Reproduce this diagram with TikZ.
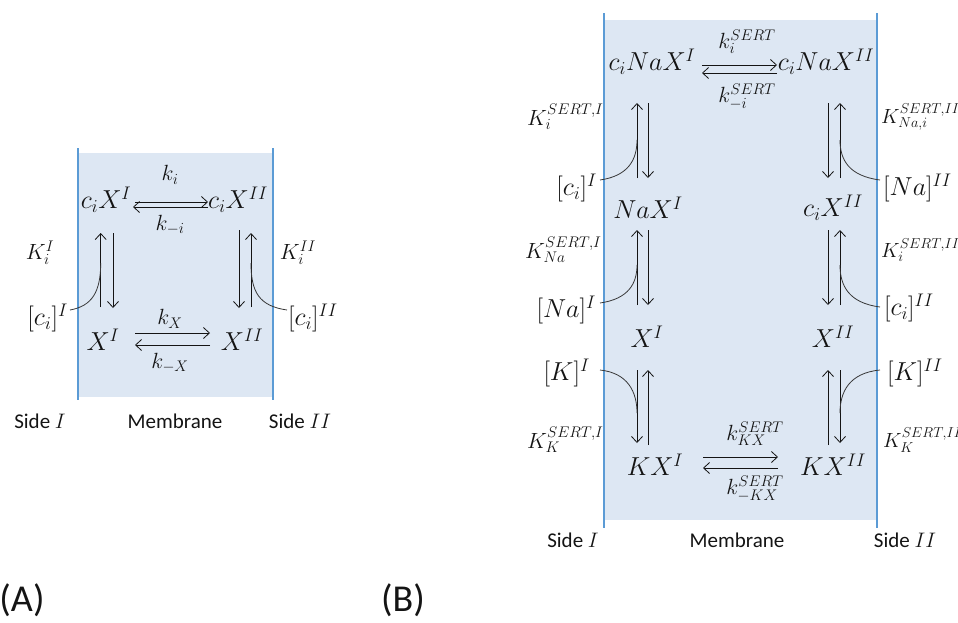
\RequirePackage{fix-cm}
\documentclass[tikz,border=0pt]{standalone}
\usepackage{fontspec}
\newfontfamily\calib{Carlito}
\usetikzlibrary{arrows.meta}
\definecolor{memfill}{RGB}{221,231,243}
\definecolor{memline}{RGB}{91,155,213}
\definecolor{ink}{RGB}{20,20,20}
\begin{document}
\begin{tikzpicture}[x=1pt,y=-1pt,
  spc/.style={font=\fontsize{26}{30}\selectfont,text=ink,inner sep=0pt},
  lbl/.style={font=\fontsize{22}{26}\selectfont,text=ink,inner sep=0pt},
  rlbl/.style={font=\fontsize{20.5}{24}\selectfont,text=ink,inner sep=0pt,anchor=west},
  sidelbl/.style={font=\calib\fontsize{21}{25}\selectfont,text=ink,inner sep=0pt},
  panel/.style={font=\calib\fontsize{38}{44}\selectfont,text=ink,inner sep=0pt},
  arr/.style={draw=ink,line width=0.8pt,-{Straight Barb[length=6pt,width=11pt]}},
  crv/.style={draw=ink!85,line width=0.8pt},
  memedge/.style={draw=memline,line width=2pt}]
\useasboundingbox (0,0) rectangle (958,622);

% ================= Panel A =================
\fill[memfill] (78,153) rectangle (273,397);
\draw[memedge] (78,148) coordinate (aL1) -- (78,400) coordinate (aL2);
\draw[memedge] (273,148) coordinate (aR1) -- (273,400) coordinate (aR2);

\node[spc] (cXI)  at (106,200) {$c_iX^I$};
\node[spc] (cXII) at (238,200) {$c_iX^{II}$};
\node[spc] (XI)   at (103,340) {$X^I$};
\node[spc] (XII)  at (242,340) {$X^{II}$};
\node[lbl] (ki)   at (170,175) {$k_i$};
\node[lbl] (kmi)  at (170,225) {$k_{-i}$};
\node[lbl] (kx)   at (170,319) {$k_X$};
\node[lbl] (kmx)  at (170,363) {$k_{-X}$};
\node[lbl] (KiI)  at (40,253) {$K_i^I$};
\node[lbl] (KiII) at (298,253) {$K_i^{II}$};
\node[spc,anchor=east] (ciI)  at (68,318) {$[c_i]^I$};
\node[spc,anchor=west] (ciII) at (288,318) {$[c_i]^{II}$};
\node[sidelbl] (sIA)  at (40,421) {Side $I$};
\node[sidelbl] (memA) at (175,421) {Membrane};
\node[sidelbl] (sIIA) at (300,421) {Side $II$};
\node[panel] (labA) at (22,600) {(A)};

% horizontal arrows A
\draw[arr] (135,202) coordinate (a1) -- (208,202) coordinate (a2);
\draw[arr] (208,207) coordinate (a3) -- (133,207) coordinate (a4);
\draw[arr] (135,333) coordinate (a5) -- (210,333) coordinate (a6);
\draw[arr] (210,345) coordinate (a7) -- (135,345) coordinate (a8);
% vertical arrows A
\draw[arr] (100.7,307) coordinate (v1) -- (100.7,233) coordinate (v2);
\draw[arr] (113,233) coordinate (v3) -- (113,308) coordinate (v4);
\draw[arr] (239,230) coordinate (v5) -- (239,308) coordinate (v6);
\draw[arr] (251,307) coordinate (v7) -- (251,233) coordinate (v8);
% curves A
\coordinate (jA1) at (100.7,263);
\coordinate (jA2) at (251,263);
\draw[crv] (70,310) .. controls (92,306) and (100.7,292) .. (jA1);
\draw[crv] (287,310) .. controls (259,306) and (251,292) .. (jA2);

% ================= Panel B =================
\fill[memfill] (604,20) rectangle (877,520);
\draw[memedge] (604,13) coordinate (bL1) -- (604,528) coordinate (bL2);
\draw[memedge] (877,13) coordinate (bR1) -- (877,528) coordinate (bR2);

\node[spc] (cNaXI)  at (652,62) {$c_iNaX^I$};
\node[spc] (cNaXII) at (826,62) {$c_iNaX^{II}$};
\node[lbl] (kiS)    at (747,42) {$k_i^{SERT}$};
\node[lbl] (kmiS)   at (747,97) {$k_{-i}^{SERT}$};
\node[lbl,anchor=west] (KiSI) at (527,117) {$K_i^{SERT,I}$};
\node[rlbl] (KNaiSII) at (881,117) {$K_{Na,i}^{SERT,II}$};
\node[spc,anchor=east] (ciIB) at (597,188) {$[c_i]^I$};
\node[spc,anchor=west] (NaIIB) at (883,188) {$[Na]^{II}$};
\node[spc] (NaXI)   at (648,208) {$NaX^I$};
\node[spc] (ciXII)  at (833,208) {$c_iX^{II}$};
\node[lbl,anchor=west] (KNaSI) at (525,250) {$K_{Na}^{SERT,I}$};
\node[rlbl] (KiSII) at (881,250) {$K_i^{SERT,II}$};
\node[spc,anchor=east] (NaIB) at (596,310) {$[Na]^I$};
\node[spc,anchor=west] (ciIIB) at (884,308) {$[c_i]^{II}$};
\node[spc] (XIB)    at (647,337) {$X^I$};
\node[spc] (XIIB)   at (833,337) {$X^{II}$};
\node[spc,anchor=east] (KIB) at (590,373) {$[K]^I$};
\node[spc,anchor=west] (KIIB) at (887,373) {$[K]^{II}$};
\node[lbl,anchor=west] (KKSI) at (527,440) {$K_K^{SERT,I}$};
\node[rlbl] (KKSII) at (883,440) {$K_K^{SERT,II}$};
\node[spc] (KXI)    at (655,465) {$KX^I$};
\node[spc] (KXII)   at (833,465) {$KX^{II}$};
\node[lbl] (kKXS)   at (755,434) {$k_{KX}^{SERT}$};
\node[lbl] (kmKXS)  at (755,489) {$k_{-KX}^{SERT}$};
\node[sidelbl] (sIB)  at (573,540) {Side $I$};
\node[sidelbl] (memB) at (737,540) {Membrane};
\node[sidelbl] (sIIB) at (905,540) {Side $II$};
\node[panel] (labB) at (403,600) {(B)};

% horizontal arrows B
\draw[arr] (702,65) coordinate (b1) -- (777,65) coordinate (b2);
\draw[arr] (777,73) coordinate (b3) -- (702,73) coordinate (b4);
\draw[arr] (703,457) coordinate (b5) -- (778,457) coordinate (b6);
\draw[arr] (778,468) coordinate (b7) -- (703,468) coordinate (b8);
% vertical arrows B, left column
\draw[arr] (637,178) -- (637,103);
\draw[arr] (648,103) -- (648,178);
\draw[arr] (637,305) -- (637,230);
\draw[arr] (648,230) -- (648,305);
\draw[arr] (637,370) -- (637,443);
\draw[arr] (648,445) -- (648,370);
% vertical arrows B, right column
\draw[arr] (828,103) -- (828,178);
\draw[arr] (840,178) -- (840,103);
\draw[arr] (828,230) -- (828,305);
\draw[arr] (840,305) -- (840,230);
\draw[arr] (828,445) -- (828,370);
\draw[arr] (840,370) -- (840,443);
% curves B
\draw[crv] (600,180) .. controls (628,176) and (637,160) .. (637,140);
\draw[crv] (880,180) .. controls (849,176) and (840,160) .. (840,140);
\draw[crv] (600,303) .. controls (628,299) and (637,284) .. (637,265);
\draw[crv] (880,307) .. controls (849,303) and (840,286) .. (840,265);
\draw[crv] (600,370) .. controls (628,373) and (637,392) .. (637,413);
\draw[crv] (880,370) .. controls (849,373) and (840,392) .. (840,413);
\end{tikzpicture}
\end{document}
